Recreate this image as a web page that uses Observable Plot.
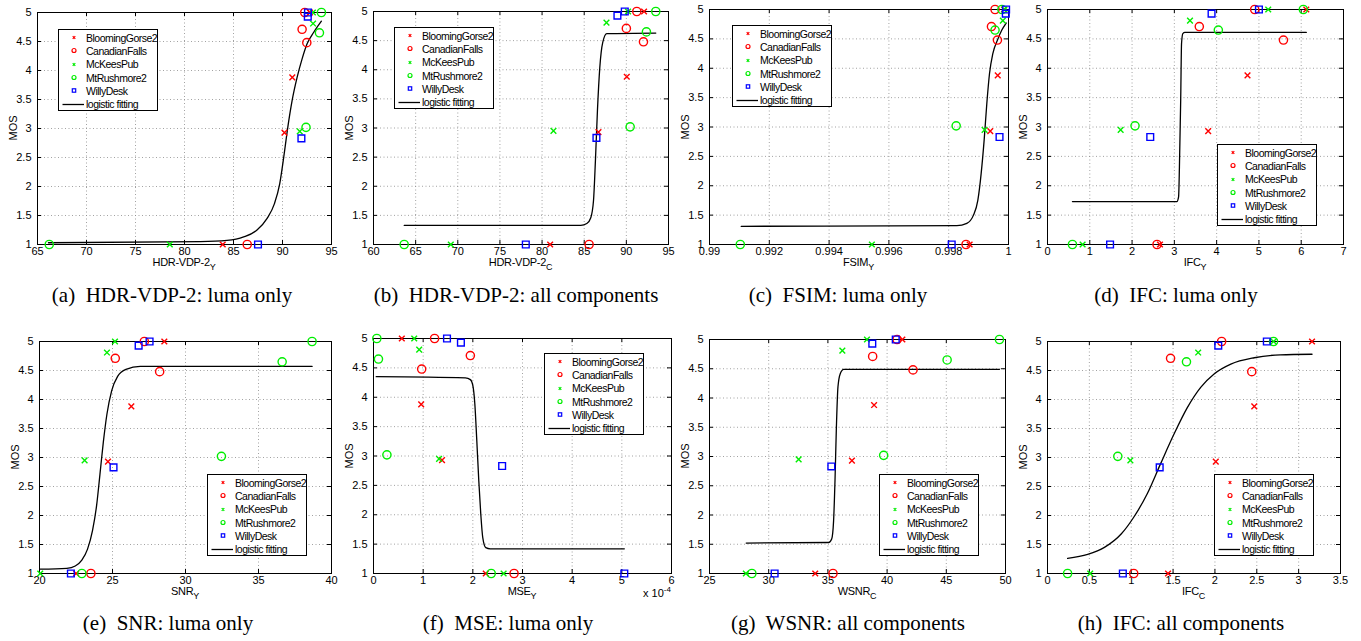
<!DOCTYPE html>
<html><head><meta charset="utf-8">
<script src="https://cdn.jsdelivr.net/npm/d3@7"></script>
<script src="https://cdn.jsdelivr.net/npm/@observablehq/plot@0.6"></script>
<style>
html,body{margin:0;padding:0;background:#fff;}
#page{position:relative;width:1361px;height:641px;overflow:hidden;background:#fff;font-family:"Liberation Sans",Arial,sans-serif;color:#000;}
.panel{position:absolute;}
.panel svg{overflow:visible;}
.xl{position:absolute;font-size:11px;line-height:11px;letter-spacing:-0.3px;white-space:nowrap;transform:translateX(-50%);}
.xl .sb{font-size:9px;position:relative;top:4px;}
.yl{position:absolute;font-size:11px;line-height:11px;white-space:nowrap;transform:translate(-50%,-50%) rotate(-90deg);}
.cap{position:absolute;font-family:"Liberation Serif","Times New Roman",serif;font-size:21px;line-height:21px;white-space:pre;transform:translateX(-50%);}
.legend{position:absolute;border:1px solid #000;background:#fff;box-sizing:border-box;padding-top:1px;width:100px;height:82px;}
.legend .row{height:13.3px;display:flex;align-items:center;font-size:10.5px;letter-spacing:-0.5px;white-space:nowrap;}
.legend svg{width:27px;height:13px;flex:none;}
.exp{position:absolute;font-size:11px;line-height:11px;white-space:nowrap;}
.exp .sp{font-size:8px;position:relative;top:-5px;}
</style></head><body><div id="page"></div>
<script>
// ---------- data ----------
const seriesNames = ["BloomingGorse2", "CanadianFalls", "McKeesPub", "MtRushmore2", "WillyDesk"];
const seriesColors = ["#ff0000", "#ff0000", "#00ee00", "#00ee00", "#0000ff"];
const seriesSymbols = ["times", "circle", "times", "circle", "square"];
// MOS values for each series (same in every panel)
const mosValues = [
  [1, 2.93, 3.88, 5],
  [1, 4.48, 4.71, 5],
  [1, 2.95, 4.81, 5],
  [1, 3.02, 4.65, 5],
  [1, 2.83, 4.93, 5]
];
const yTicks = [1, 1.5, 2, 2.5, 3, 3.5, 4, 4.5, 5];

// (a) HDR-VDP-2 luma
const xHdrVdp2Y = [
  [83.9, 90.2, 91.0, 92.8],
  [86.4, 92.48, 92.0, 92.27],
  [78.5, 91.76, 93.12, 93.1],
  [66.2, 92.4, 93.77, 93.97],
  [87.5, 91.93, 92.58, 92.6]
];
const fitHdrVdp2Y = [[66.12,1.03],[81.62,1.05],[84.34,1.07],[86.04,1.13],[87.4,1.25],[88.43,1.45],[89.17,1.7],[89.72,2.05],[90.13,2.51],[90.54,3.02],[90.98,3.48],[91.49,3.88],[92.0,4.2],[92.51,4.46],[93.19,4.66],[93.97,4.85]];
const ticksHdrVdp2Y = [65, 70, 75, 80, 85, 90, 95];

// (b) HDR-VDP-2 all components
const xHdrVdp2C = [
  [80.96, 86.69, 90.05, 92.1],
  [85.58, 92.03, 90.0, 91.24],
  [69.17, 81.35, 87.64, 90.2],
  [63.64, 90.45, 92.38, 93.49],
  [78.07, 86.45, 88.94, 89.81]
];
const fitHdrVdp2C = [[63.64,1.33],[84.59,1.33],[85.31,1.36],[85.78,1.46],[86.1,1.75],[86.33,2.44],[86.57,3.3],[86.85,4.04],[87.2,4.47],[87.68,4.62],[93.49,4.63]];
const ticksHdrVdp2C = [60, 65, 70, 75, 80, 85, 90, 95];

// (c) FSIM luma
const xFsimY = [
  [0.9987, 0.99939, 0.99964, 0.99985],
  [0.99858, 0.99963, 0.99943, 0.99955],
  [0.99543, 0.9992, 0.99981, 0.99986],
  [0.99103, 0.99825, 0.99955, 0.99978],
  [0.9981, 0.9997, 0.99991, 0.99992]
];
const fitFsimY = [[0.991059,1.31],[0.998272,1.32],[0.998606,1.36],[0.998829,1.5],[0.998974,1.75],[0.999086,2.21],[0.999186,2.78],[0.999275,3.4],[0.999365,3.91],[0.999476,4.25],[0.999632,4.48],[0.999777,4.65],[0.999922,4.77]];
const ticksFsimY = [0.99, 0.992, 0.994, 0.996, 0.998, 1];

// (d) IFC luma
const xIfcY = [
  [2.66, 3.80, 4.73, 6.12],
  [2.59, 5.58, 3.59, 4.90],
  [0.83, 1.73, 3.37, 5.22],
  [0.59, 2.07, 4.04, 6.05],
  [1.48, 2.43, 3.88, 5.0]
];
const fitIfcY = [[0.59,1.73],[3.06,1.73],[3.1,1.81],[3.12,2.32],[3.15,3.46],[3.17,4.42],[3.2,4.59],[3.25,4.61],[6.12,4.61]];
const ticksIfcY = [0, 1, 2, 3, 4, 5, 6, 7];

// (e) SNR luma
const xSnrY = [
  [22.51, 24.69, 26.29, 28.55],
  [23.52, 28.23, 25.19, 27.18],
  [20.05, 23.09, 24.62, 25.17],
  [22.9, 32.46, 36.62, 38.67],
  [22.15, 25.07, 26.79, 27.54]
];
const fitSnrY = [[20.05,1.075],[21.87,1.09],[22.45,1.13],[22.9,1.23],[23.29,1.42],[23.63,1.74],[23.91,2.17],[24.14,2.71],[24.37,3.26],[24.62,3.75],[24.94,4.15],[25.35,4.4],[25.92,4.52],[26.9,4.57],[38.67,4.57]];
const ticksSnrY = [20, 25, 30, 35, 40];

// (f) MSE luma
const xMseY = [
  [2.26e-4, 1.38e-4, 0.96e-4, 0.57e-4],
  [2.83e-4, 0.97e-4, 1.95e-4, 1.23e-4],
  [2.62e-4, 1.32e-4, 0.92e-4, 0.82e-4],
  [2.37e-4, 0.27e-4, 0.10e-4, 0.067e-4],
  [5.05e-4, 2.59e-4, 1.76e-4, 1.48e-4]
];
const fitMseY = [[0.054e-4,4.35],[1.85e-4,4.33],[1.95e-4,4.3],[2.0e-4,4.2],[2.04e-4,3.89],[2.08e-4,3.26],[2.12e-4,2.58],[2.16e-4,2.01],[2.2e-4,1.61],[2.26e-4,1.44],[2.35e-4,1.42],[5.05e-4,1.42]];
const ticksMseY = [0, 1e-4, 2e-4, 3e-4, 4e-4, 5e-4, 6e-4];

// (g) WSNR all components
const xWsnrC = [
  [33.93, 37.03, 38.9, 41.29],
  [35.43, 42.19, 38.78, 40.84],
  [28.07, 32.53, 36.22, 38.3],
  [28.58, 39.71, 45.07, 49.49],
  [30.5, 35.29, 38.75, 40.73]
];
const fitWsnrC = [[28.1,1.52],[35.06,1.53],[35.32,1.59],[35.48,1.9],[35.6,2.59],[35.71,3.45],[35.85,4.19],[36.05,4.42],[36.33,4.49],[49.49,4.49]];
const ticksWsnrC = [25, 30, 35, 40, 45, 50];

// (h) IFC all components
const xIfcC = [
  [1.44, 2.01, 2.47, 3.16],
  [1.03, 2.44, 1.47, 2.08],
  [0.51, 0.99, 1.80, 2.70],
  [0.24, 0.84, 1.66, 2.70],
  [0.90, 1.34, 2.04, 2.62]
];
const fitIfcC = [[0.24,1.26],[0.48,1.33],[0.68,1.45],[0.88,1.68],[1.03,1.97],[1.19,2.37],[1.35,2.89],[1.51,3.4],[1.67,3.86],[1.83,4.21],[1.99,4.44],[2.19,4.61],[2.47,4.72],[2.78,4.77],[3.16,4.78]];
const ticksIfcC = [0, 0.5, 1, 1.5, 2, 2.5, 3, 3.5];

// ---------- layout ----------
const fmtPlain = d => String(+d.toFixed(6));
const fmtE4 = d => String(Math.round(d * 1e4));
const panels = [
  {box:[37,331,12,244], xs:xHdrVdp2Y, fit:fitHdrVdp2Y, ticks:ticksHdrVdp2Y, fmt:fmtPlain, xl:["HDR-VDP-2","Y"], leg:[58,29], cap:"(a)  HDR-VDP-2: luma only", capX:172, capY:285},
  {box:[373,668,11,244], xs:xHdrVdp2C, fit:fitHdrVdp2C, ticks:ticksHdrVdp2C, fmt:fmtPlain, xl:["HDR-VDP-2","C"], leg:[394,27], cap:"(b)  HDR-VDP-2: all components", capX:516, capY:285},
  {box:[709,1008,9,244], xs:xFsimY, fit:fitFsimY, ticks:ticksFsimY, fmt:fmtPlain, xl:["FSIM","Y"], leg:[732,25], cap:"(c)  FSIM: luma only", capX:838, capY:285},
  {box:[1047,1343,9,244], xs:xIfcY, fit:fitIfcY, ticks:ticksIfcY, fmt:fmtPlain, xl:["IFC","Y"], leg:[1217,144], cap:"(d)  IFC: luma only", capX:1176, capY:285},
  {box:[39,331,341,573], xs:xSnrY, fit:fitSnrY, ticks:ticksSnrY, fmt:fmtPlain, xl:["SNR","Y"], leg:[207,474], cap:"(e)  SNR: luma only", capX:168, capY:613},
  {box:[373,671,338,573], xs:xMseY, fit:fitMseY, ticks:ticksMseY, fmt:fmtE4, xl:["MSE","Y"], leg:[544,353], cap:"(f)  MSE: luma only", capX:508, capY:613, exp:true},
  {box:[709,1005,339,573], xs:xWsnrC, fit:fitWsnrC, ticks:ticksWsnrC, fmt:fmtPlain, xl:["WSNR","C"], leg:[879,474], cap:"(g)  WSNR: all components", capX:848, capY:613},
  {box:[1047,1340,341,573], xs:xIfcC, fit:fitIfcC, ticks:ticksIfcC, fmt:fmtPlain, xl:["IFC","C"], leg:[1214,474], cap:"(h)  IFC: all components", capX:1181, capY:613}
];

const page = document.getElementById("page");

function symSvg(i) {
  const c = seriesColors[i];
  if (i < 0) return `<line x1="3.5" x2="25" y1="6.5" y2="6.5" stroke="#000" stroke-width="1.3"/>`;
  const s = seriesSymbols[i];
  if (s === "times") return `<path d="M13.7,5.2L16.3,7.8M13.7,7.8L16.3,5.2" stroke="${c}" stroke-width="1.2" fill="none"/>`;
  if (s === "circle") return `<circle cx="15" cy="6.5" r="2" stroke="${c}" stroke-width="1.2" fill="none"/>`;
  return `<rect x="13.3" y="4.8" width="3.4" height="3.4" stroke="${c}" stroke-width="1.2" fill="none"/>`;
}

function drawPanel(p) {
  const [x0, x1, y0, y1] = p.box;
  const mL = 40, mR = 15, mT = 12, mB = 40;
  const pw = x1 - x0, ph = y1 - y0;
  const W = mL + pw + mR, H = mT + ph + mB;
  const dotMarks = seriesNames.map((name, i) => {
    const pts = p.xs[i].map((x, j) => ({x, y: mosValues[i][j]}));
    const sym = seriesSymbols[i];
    return Plot.dot(pts, {
      x: "x", y: "y", symbol: sym,
      r: sym === "circle" ? 4.1 : sym === "square" ? 3.8 : 2.7,
      stroke: seriesColors[i], strokeWidth: 1.4, fill: "none"
    });
  });
  const fitData = p.fit.map(([x, y]) => ({x, y}));
  const chart = Plot.plot({
    width: W, height: H,
    marginLeft: mL, marginRight: mR, marginTop: mT, marginBottom: mB,
    x: {domain: [p.ticks[0], p.ticks[p.ticks.length - 1]]},
    y: {domain: [1, 5]},
    style: {fontFamily: "'Liberation Sans', Arial, sans-serif", fontSize: "11px", background: "transparent", overflow: "visible", color: "#000"},
    marks: [
      Plot.gridX({ticks: p.ticks, stroke: "#8a8a8a", strokeOpacity: 1, strokeWidth: 0.8, strokeDasharray: "1,2.5"}),
      Plot.gridY({ticks: yTicks, stroke: "#8a8a8a", strokeOpacity: 1, strokeWidth: 0.8, strokeDasharray: "1,2.5"}),
      Plot.ruleX(p.ticks, {x: d => d, insetTop: ph - 4, stroke: "#000"}),
      Plot.ruleX(p.ticks, {x: d => d, insetBottom: ph - 4, stroke: "#000"}),
      Plot.ruleY(yTicks, {y: d => d, insetRight: pw - 4, stroke: "#000"}),
      Plot.ruleY(yTicks, {y: d => d, insetLeft: pw - 4, stroke: "#000"}),
      Plot.frame({stroke: "#000", strokeWidth: 1}),
      Plot.axisX({ticks: p.ticks, tickFormat: p.fmt, tickSize: 0, tickPadding: 3, label: null}),
      Plot.axisY({ticks: yTicks, tickFormat: fmtPlain, tickSize: 0, tickPadding: 6, label: null}),
      Plot.line(fitData, {x: "x", y: "y", curve: "monotone-x", stroke: "#000", strokeWidth: 1.3}),
      ...dotMarks
    ]
  });
  const div = document.createElement("div");
  div.className = "panel";
  div.style.left = (x0 - mL) + "px";
  div.style.top = (y0 - mT) + "px";
  div.appendChild(chart);
  page.appendChild(div);

  // axis labels
  const xl = document.createElement("div");
  xl.className = "xl";
  xl.style.left = ((x0 + x1) / 2) + "px";
  xl.style.top = (y1 + 13) + "px";
  xl.innerHTML = `${p.xl[0]}<span class="sb">${p.xl[1]}</span>`;
  page.appendChild(xl);
  const yl = document.createElement("div");
  yl.className = "yl";
  yl.style.left = (x0 - 24.5) + "px";
  yl.style.top = ((y0 + y1) / 2) + "px";
  yl.textContent = "MOS";
  page.appendChild(yl);

  if (p.exp) {
    const ex = document.createElement("div");
    ex.className = "exp";
    ex.style.left = (x1 - 28) + "px";
    ex.style.top = (y1 + 15) + "px";
    ex.innerHTML = `x 10<span class="sp">-4</span>`;
    page.appendChild(ex);
  }

  // legend
  const lg = document.createElement("div");
  lg.className = "legend";
  lg.style.left = p.leg[0] + "px";
  lg.style.top = p.leg[1] + "px";
  let html = "";
  seriesNames.forEach((n, i) => {
    html += `<div class="row"><svg viewBox="0 0 27 13">${symSvg(i)}</svg><span>${n}</span></div>`;
  });
  html += `<div class="row"><svg viewBox="0 0 27 13">${symSvg(-1)}</svg><span>logistic fitting</span></div>`;
  lg.innerHTML = html;
  page.appendChild(lg);

  // caption
  const cap = document.createElement("div");
  cap.className = "cap";
  cap.style.left = p.capX + "px";
  cap.style.top = p.capY + "px";
  cap.textContent = p.cap;
  page.appendChild(cap);
}

panels.forEach(drawPanel);
</script></body></html>
